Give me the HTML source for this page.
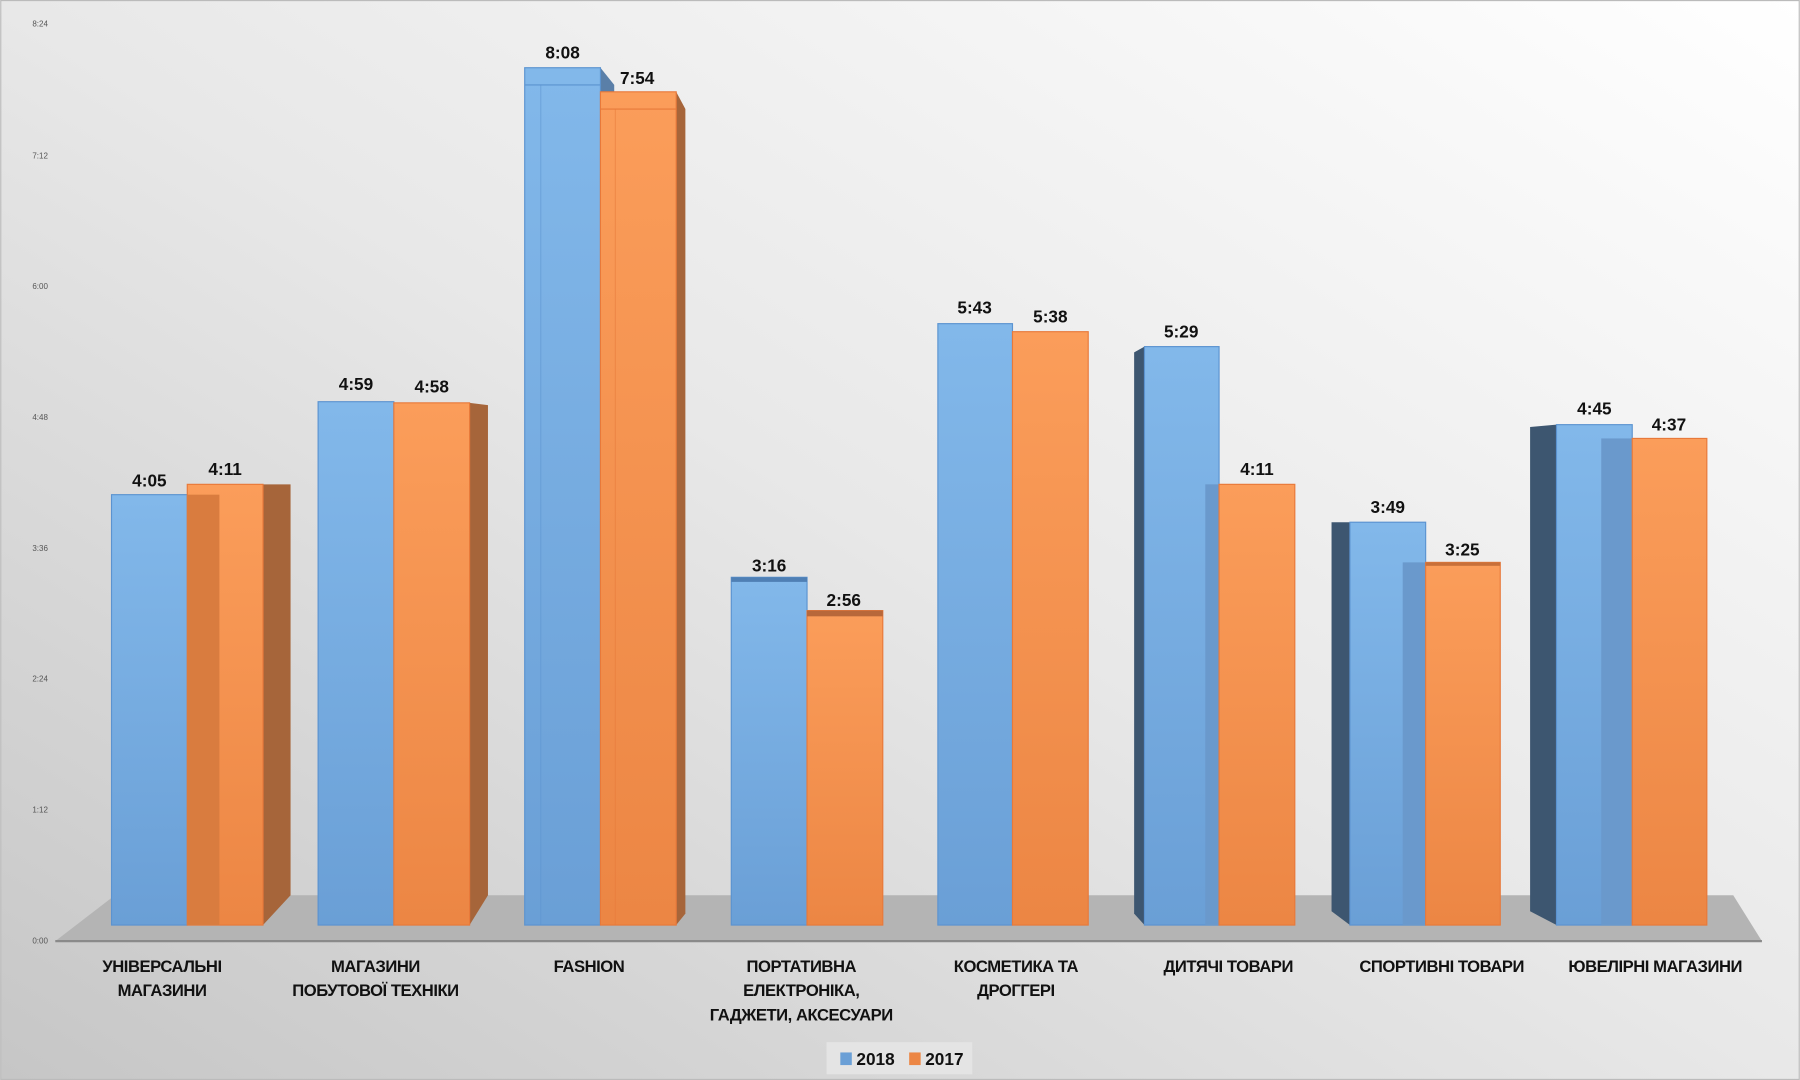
<!DOCTYPE html>
<html><head><meta charset="utf-8"><style>
html,body{margin:0;padding:0;width:1800px;height:1080px;overflow:hidden}
svg{display:block}
text{font-family:"Liberation Sans",sans-serif;font-weight:bold;fill:#111}
</style></head><body>
<svg width="1800" height="1080" viewBox="0 0 1568 941" xmlns="http://www.w3.org/2000/svg">
<defs>
<linearGradient id="bg" x1="1" y1="0" x2="0" y2="1">
<stop offset="0" stop-color="#ffffff"/><stop offset="0.5" stop-color="#e8e8e8"/><stop offset="1" stop-color="#c6c6c6"/>
</linearGradient>
<linearGradient id="bl" x1="0" y1="0" x2="0" y2="1">
<stop offset="0" stop-color="#82b8ea"/><stop offset="1" stop-color="#6a9fd6"/>
</linearGradient>
<linearGradient id="or" x1="0" y1="0" x2="0" y2="1">
<stop offset="0" stop-color="#fb9d5a"/><stop offset="1" stop-color="#ec8644"/>
</linearGradient>
</defs>
<rect width="1568" height="941" fill="url(#bg)"/>
<rect x="0.5" y="0.5" width="1567" height="940" fill="none" stroke="#bbb"/>
<g font-size="7" style="font-weight:normal" fill="#555">
<text x="28" y="23" style="font-weight:normal;fill:#555">8:24</text>
<text x="28" y="138" style="font-weight:normal;fill:#555">7:12</text>
<text x="28" y="252" style="font-weight:normal;fill:#555">6:00</text>
<text x="28" y="366" style="font-weight:normal;fill:#555">4:48</text>
<text x="28" y="480" style="font-weight:normal;fill:#555">3:36</text>
<text x="28" y="594" style="font-weight:normal;fill:#555">2:24</text>
<text x="28" y="708" style="font-weight:normal;fill:#555">1:12</text>
<text x="28" y="822" style="font-weight:normal;fill:#555">0:00</text>
</g>
<polygon points="100,780 1510,780 1535,820 48,820" fill="#b4b4b4"/>
<line x1="48" y1="820" x2="1535" y2="820" stroke="#8a8a8a" stroke-width="2"/>

<!-- group 1 -->
<polygon points="229,422 253,422 253,780 229,806" fill="#a6653a"/>
<rect x="97" y="431" width="66" height="375" fill="url(#bl)" stroke="#5b93d0"/>
<rect x="163" y="422" width="66" height="384" fill="url(#or)" stroke="#e8793a"/>
<rect x="163" y="431" width="28" height="375" fill="#d97c3f"/>
<!-- group 2 -->
<polygon points="409,351 425,353 425,780 409,806" fill="#a6653a"/>
<rect x="277" y="350" width="66" height="456" fill="url(#bl)" stroke="#5b93d0"/>
<rect x="343" y="351" width="66" height="455" fill="url(#or)" stroke="#e8793a"/>
<!-- group 3 -->
<polygon points="523,59 535,74 535,806 523,806" fill="#5a7fa8"/>
<polygon points="589,80 597,95 597,796 589,806" fill="#a6653a"/>
<rect x="457" y="59" width="66" height="747" fill="url(#bl)" stroke="#5b93d0"/>
<rect x="523" y="80" width="66" height="726" fill="url(#or)" stroke="#e8793a"/>
<line x1="457" y1="74" x2="523" y2="74" stroke="#5b93d0"/><line x1="471" y1="74" x2="471" y2="806" stroke="#5b93d0" stroke-opacity=".5"/>
<line x1="523" y1="95" x2="589" y2="95" stroke="#e8793a"/><line x1="536" y1="95" x2="536" y2="806" stroke="#e8793a" stroke-opacity=".5"/>
<!-- group 4 -->
<rect x="637" y="503" width="66" height="303" fill="url(#bl)" stroke="#5b93d0"/>
<rect x="703" y="532" width="66" height="274" fill="url(#or)" stroke="#e8793a"/>
<rect x="703" y="532" width="66" height="5" fill="#b8683a"/>
<rect x="637" y="503" width="66" height="4" fill="#4f7fb4"/>
<!-- group 5 -->
<rect x="817" y="282" width="65" height="524" fill="url(#bl)" stroke="#5b93d0"/>
<rect x="882" y="289" width="66" height="517" fill="url(#or)" stroke="#e8793a"/>
<!-- group 6 -->
<polygon points="988,307 997,302 997,806 988,796" fill="#3d5670"/>
<rect x="997" y="302" width="65" height="504" fill="url(#bl)" stroke="#5b93d0"/>
<rect x="1050" y="422" width="12" height="384" fill="#6a99cc"/>
<rect x="1062" y="422" width="66" height="384" fill="url(#or)" stroke="#e8793a"/>
<!-- group 7 -->
<polygon points="1160,455 1176,455 1176,806 1160,794" fill="#3d5670"/>
<rect x="1176" y="455" width="66" height="351" fill="url(#bl)" stroke="#5b93d0"/>
<rect x="1222" y="490" width="20" height="316" fill="#6a99cc"/>
<rect x="1242" y="490" width="65" height="316" fill="url(#or)" stroke="#e8793a"/>
<rect x="1242" y="490" width="65" height="3" fill="#c8703a"/>
<!-- group 8 -->
<polygon points="1333,372 1356,370 1356,806 1333,794" fill="#3d5670"/>
<rect x="1356" y="370" width="66" height="436" fill="url(#bl)" stroke="#5b93d0"/>
<rect x="1395" y="382" width="27" height="424" fill="#6a99cc"/>
<rect x="1422" y="382" width="65" height="424" fill="url(#or)" stroke="#e8793a"/>

<g font-size="15" text-anchor="middle">
<text x="130" y="424">4:05</text><text x="196" y="414">4:11</text>
<text x="310" y="340">4:59</text><text x="376" y="342">4:58</text>
<text x="490" y="51">8:08</text><text x="555" y="73">7:54</text>
<text x="670" y="498">3:16</text><text x="735" y="528">2:56</text>
<text x="849" y="273">5:43</text><text x="915" y="281">5:38</text>
<text x="1029" y="294">5:29</text><text x="1095" y="414">4:11</text>
<text x="1209" y="447">3:49</text><text x="1274" y="484">3:25</text>
<text x="1389" y="361">4:45</text><text x="1454" y="375">4:37</text>
</g>
<g font-size="14.5" text-anchor="middle" letter-spacing="-0.4">
<text x="141" y="847">УНІВЕРСАЛЬНІ</text><text x="141" y="868">МАГАЗИНИ</text>
<text x="327" y="847">МАГАЗИНИ</text><text x="327" y="868">ПОБУТОВОЇ ТЕХНІКИ</text>
<text x="513" y="847">FASHION</text>
<text x="698" y="847">ПОРТАТИВНА</text><text x="698" y="868">ЕЛЕКТРОНІКА,</text><text x="698" y="889">ГАДЖЕТИ, АКСЕСУАРИ</text>
<text x="885" y="847">КОСМЕТИКА ТА</text><text x="885" y="868">ДРОГГЕРІ</text>
<text x="1070" y="847">ДИТЯЧІ ТОВАРИ</text>
<text x="1256" y="847">СПОРТИВНІ ТОВАРИ</text>
<text x="1442" y="847">ЮВЕЛІРНІ МАГАЗИНИ</text>
</g>
<rect x="720" y="908" width="127" height="28" fill="#e4e4e4"/>
<rect x="732" y="917" width="10" height="11" fill="#6a9fd6"/>
<text x="746" y="928" font-size="15">2018</text>
<rect x="792" y="917" width="10" height="11" fill="#ec8644"/>
<text x="806" y="928" font-size="15">2017</text>
</svg>
</body></html>
